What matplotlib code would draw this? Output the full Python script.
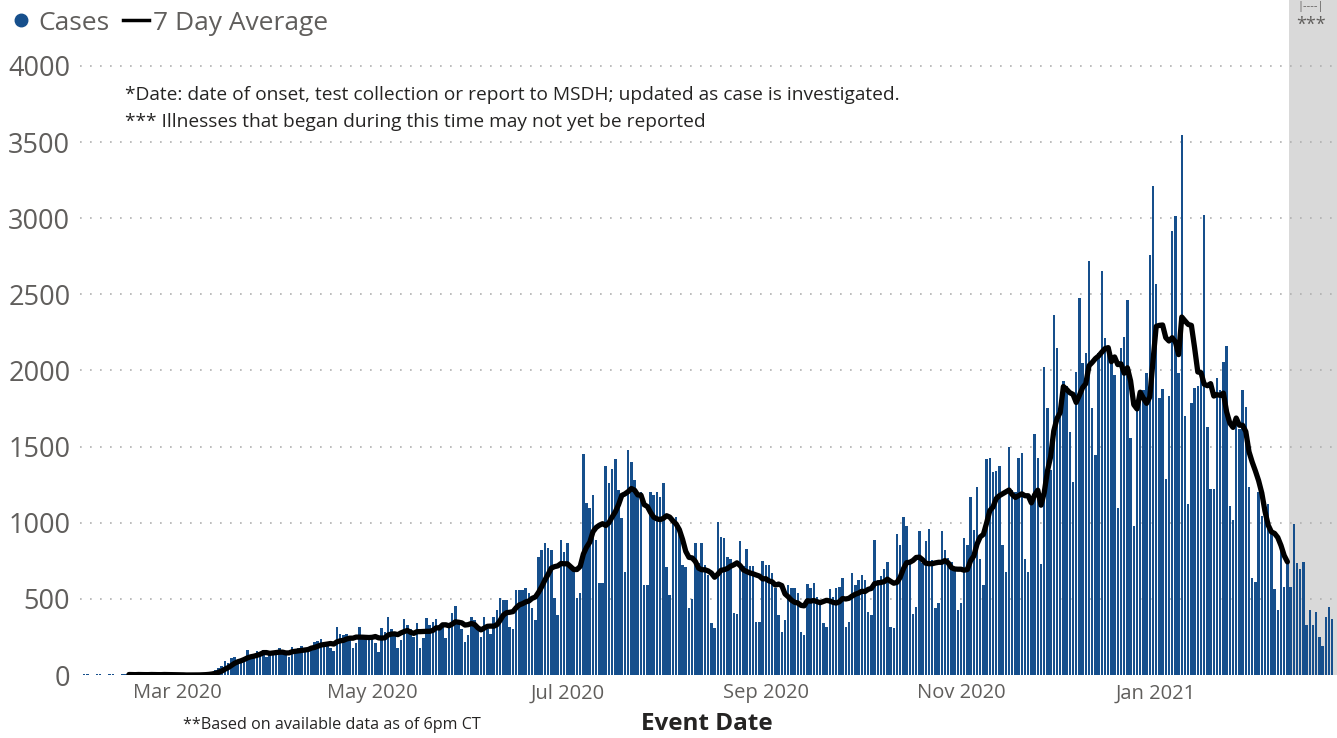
import numpy as np
import pandas as pd
import matplotlib
matplotlib.use('Agg')
import matplotlib.pyplot as plt
import matplotlib.dates as mdates
from matplotlib.lines import Line2D

plt.rcParams['font.family'] = ['Open Sans', 'DejaVu Sans']

# daily cases by event date (Feb 1 2020 .. Feb 25 2021)
feb_2020 = [5, 6, 0, 0, 5, 6, 0, 0, 5, 6, 0, 0, 5, 6, 0, 0, 5, 6, 0, 0, 5, 6, 0, 0, 5, 6, 0, 0, 1]
mar_2020 = [0, 0, 0, 0, 0, 1, 1, 2, 4, 8, 12, 20, 30, 45, 60, 93, 80, 110, 120, 100, 90,
            120, 165, 130, 140, 160, 150, 165, 120, 130, 150]
apr_2020 = [160, 175, 150, 130, 120, 185, 170, 180, 190, 175, 150, 186, 215, 225, 237,
            210, 200, 175, 160, 318, 270, 260, 270, 240, 175, 210, 318, 265, 255, 260]
may_2020 = [250, 210, 150, 307, 280, 384, 300, 260, 175, 230, 368, 330, 300, 250, 340,
            175, 240, 373, 330, 345, 368, 330, 320, 241, 330, 406, 450, 350, 300, 219, 260]
jun_2020 = [384, 360, 300, 250, 384, 300, 270, 380, 428, 505, 490, 493, 318, 300, 560,
            559, 560, 570, 537, 439, 362, 777, 821, 865, 832, 821, 504, 395, 886, 810]
jul_2020 = [865, 700, 690, 504, 537, 1454, 1127, 1094, 1181, 886, 607, 607, 1371, 1258,
            1356, 1421, 1214, 1028, 679, 1476, 1400, 1279, 1203, 1203, 592, 592, 1203,
            1181, 1203, 1170, 1262]
aug_2020 = [712, 526, 1028, 1039, 941, 723, 712, 439, 500, 865, 734, 865, 723, 657, 341,
            308, 1007, 908, 898, 777, 760, 406, 400, 877, 713, 827, 713, 717, 351, 351, 746]
sep_2020 = [724, 724, 669, 570, 395, 285, 362, 592, 570, 570, 537, 285, 263, 599, 570,
            603, 515, 490, 340, 318, 564, 511, 570, 577, 636, 318, 351, 669, 592, 625]
oct_2020 = [658, 625, 417, 395, 888, 625, 647, 695, 739, 318, 307, 928, 855, 1037, 980,
            757, 401, 445, 943, 735, 877, 958, 757, 439, 472, 943, 818, 768, 739, 695, 428]
nov_2020 = [472, 897, 853, 1171, 952, 1237, 765, 590, 1417, 1423, 1336, 1340, 1373, 853,
            678, 1500, 1215, 1204, 1423, 1456, 765, 678, 1171, 1581, 1423, 732, 2026,
            1752, 1346, 2366]
dec_2020 = [2147, 1697, 1928, 1895, 1599, 1270, 1993, 2476, 2048, 2114, 2717, 1752, 1445,
            2114, 2651, 2213, 2158, 2070, 1971, 1094, 2147, 2219, 2465, 1555, 978, 1774,
            1862, 1873, 1982, 2761, 3210]
jan_2021 = [2567, 1819, 1878, 1289, 1831, 2913, 3014, 1984, 3548, 1701, 1125, 1788, 1885,
            1901, 1950, 3019, 1631, 1219, 1219, 1948, 1870, 2054, 2160, 1113, 1019, 1650,
            1614, 1873, 1762, 1233, 638]
feb_2021 = [612, 1205, 1043, 1031, 1126, 924, 567, 424, 840, 579, 743, 579, 990, 737, 699,
            743, 328, 426, 328, 411, 247, 190, 383, 444, 367]

first_day = '2020-02-01'
avg_start = '2020-02-15'
avg_end = '2021-02-11'      # last day of the 7 day average line
incomplete_from = '2021-02-11 12:00'  # shaded "may not yet be reported" period

tick_dates = ['2020-03-01', '2020-05-01', '2020-07-01', '2020-09-01', '2020-11-01', '2021-01-01']
tick_labels = ['Mar 2020', 'May 2020', 'Jul 2020', 'Sep 2020', 'Nov 2020', 'Jan 2021']

cases = (feb_2020 + mar_2020 + apr_2020 + may_2020 + jun_2020 + jul_2020 + aug_2020 +
         sep_2020 + oct_2020 + nov_2020 + dec_2020 + jan_2021 + feb_2021)
days = pd.date_range(first_day, periods=len(cases), freq='D')
df = pd.DataFrame({'cases': cases}, index=days)
df['avg'] = df['cases'].rolling(7).mean()
avg = df.loc[avg_start:avg_end, 'avg']

blue = '#164f8c'
grey_txt = '#605e5c'
dark_txt = '#252423'

fig = plt.figure(figsize=(13.37, 7.38), dpi=100)
ax = fig.add_axes([80 / 1337, 63 / 738, 1257 / 1337, 675 / 738])

x0 = pd.Timestamp('2020-03-01') - pd.Timedelta(days=30.3)
x1 = pd.Timestamp('2020-03-01') + pd.Timedelta(days=362.5)
ax.axvspan(pd.Timestamp(incomplete_from), x1, color='#d9d9d9', zorder=0, lw=0)

ax.bar(df.index, df['cases'], width=0.8, color=blue, zorder=2, linewidth=0)
ax.plot(avg.index, avg.values, color='black', lw=3.8, zorder=3, solid_capstyle='round')

ax.set_xlim(x0, x1)
ax.set_ylim(0, 4433)
ax.set_yticks(np.arange(0, 4001, 500))
ax.set_xticks(pd.to_datetime(tick_dates))
ax.set_xticklabels(tick_labels)
ax.tick_params(axis='y', length=0, pad=7, labelsize=19.5, labelcolor=grey_txt)
ax.tick_params(axis='x', length=0, pad=6, labelsize=14.5, labelcolor=grey_txt)
ax.grid(axis='y', color='#b0b0b0', linestyle=(0, (1, 5)), lw=1.2, zorder=1)
ax.yaxis.get_gridlines()[0].set_visible(False)
for s in ax.spines.values():
    s.set_visible(False)

# legend
handles = [Line2D([], [], marker='o', linestyle='', color=blue, markersize=9),
           Line2D([], [], color='black', lw=2.5)]
fig.legend(handles, ['Cases', '7 Day Average'], loc='center left',
           bbox_to_anchor=(8 / 1337, 1 - 23 / 738), ncol=2, frameon=False,
           fontsize=19, labelcolor=grey_txt, handlelength=1.0, handletextpad=0.15,
           columnspacing=0.5, borderaxespad=0, borderpad=0)

# notes
fig.text(125 / 1337, 1 - 95 / 738,
         '*Date: date of onset, test collection or report to MSDH; updated as case is investigated.',
         fontsize=13.8, color=dark_txt, va='center')
fig.text(125 / 1337, 1 - 122 / 738,
         '*** Illnesses that began during this time may not yet be reported',
         fontsize=13.8, color=dark_txt, va='center')
fig.text(183 / 1337, 1 - 725 / 738, '**Based on available data as of 6pm CT',
         fontsize=11.6, color=dark_txt, va='center')
fig.text(707 / 1337, 1 - 724 / 738, 'Event Date', fontsize=17.5, fontweight='bold',
         color=dark_txt, ha='center', va='center')
fig.text(1311 / 1337, 1 - 6 / 738, '|----|', fontsize=8, color=grey_txt,
         ha='center', va='center')
fig.text(1311 / 1337, 1 - 25 / 738, '***', fontsize=13, color=grey_txt,
         ha='center', va='center')

fig.savefig('out.png', dpi=100)
